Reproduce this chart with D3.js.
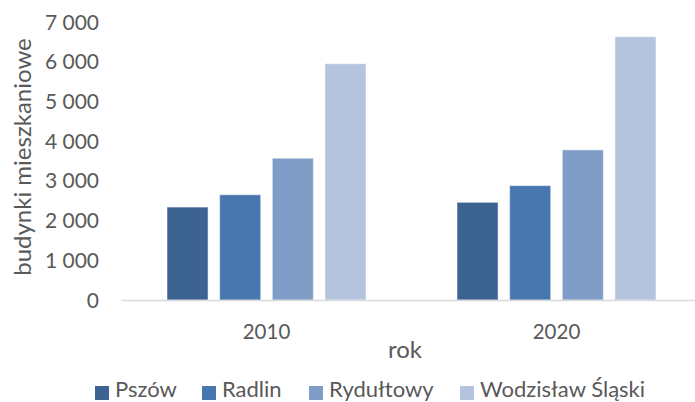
<!DOCTYPE html>
<html><head><meta charset="utf-8">
<script src="https://cdn.jsdelivr.net/npm/d3@7"></script>
<style>body{margin:0;background:#fff}svg{display:block}text{font-family:Lato,"Open Sans",sans-serif;fill:#595959}</style>
</head><body>
<script>
const categories = ["2010", "2020"];
const seriesNames = ["Pszów", "Radlin", "Rydułtowy", "Wodzisław Śląski"];
const pszow = [2340, 2460];
const radlin = [2650, 2880];
const rydultowy = [3570, 3780];
const wodzislaw = [5950, 6630];
const yTicks = [0, 1000, 2000, 3000, 4000, 5000, 6000, 7000];
const colors = ["#3C6391", "#4877AF", "#7F9DC7", "#B4C4DF"];

const series = [pszow, radlin, rydultowy, wodzislaw];
const W = 695, H = 402;
const svg = d3.select("body").append("svg").attr("width", W).attr("height", H);

const y = d3.scaleLinear().domain([0, 7000]).range([300, 22]);
const x0 = d3.scaleBand().domain(categories).range([121.5, 701.5]).paddingInner(0).paddingOuter(0);
const x1 = d3.scaleBand().domain(seriesNames).range([45.5, 244.5]).paddingInner(0.22).paddingOuter(0);

const fmt = v => d3.format(",")(v).replace(/,/g, " ");

// y axis labels
svg.append("g").selectAll("text").data(yTicks).join("text")
  .attr("x", 99).attr("y", d => y(d) + 7.5)
  .attr("text-anchor", "end").style("font-size", "21px").text(fmt);

// bars
const g = svg.append("g");
categories.forEach((c, i) => {
  g.append("g").selectAll("rect").data(seriesNames).join("rect")
    .attr("x", s => x0(c) + x1(s))
    .attr("width", x1.bandwidth())
    .attr("y", (s, j) => y(series[j][i]))
    .attr("height", (s, j) => y(0) - y(series[j][i]))
    .attr("fill", (s, j) => colors[j])
    .attr("stroke", "#ffffff").attr("stroke-opacity", 0.5).attr("stroke-width", 1);
});

// baseline
svg.append("line").attr("x1", 121.5).attr("x2", 701.5).attr("y1", 300.5).attr("y2", 300.5)
  .attr("stroke", "#d9d9d9").attr("stroke-width", 1.5);

// x labels
svg.append("g").selectAll("text").data(categories).join("text")
  .attr("x", d => x0(d) + x0.bandwidth() / 2).attr("y", 339)
  .attr("text-anchor", "middle").style("font-size", "20.5px").text(d => d);

// axis titles
svg.append("text").attr("x", 405).attr("y", 358).attr("text-anchor", "middle")
  .style("font-size", "24px").text("rok");
svg.append("text").attr("transform", "translate(31,157) rotate(-90)").attr("text-anchor", "middle")
  .style("font-size", "24px").text("budynki mieszkaniowe");

// legend
const legX = [95, 202, 309, 460];
const leg = svg.append("g").selectAll("g").data(seriesNames).join("g")
  .attr("transform", (d, i) => `translate(${legX[i]},0)`);
leg.append("rect").attr("x", 0).attr("y", 386).attr("width", 14).attr("height", 14)
  .attr("fill", (d, i) => colors[i]);
leg.append("text").attr("x", 20).attr("y", 397).style("font-size", "22px").text(d => d);
</script>
</body></html>
